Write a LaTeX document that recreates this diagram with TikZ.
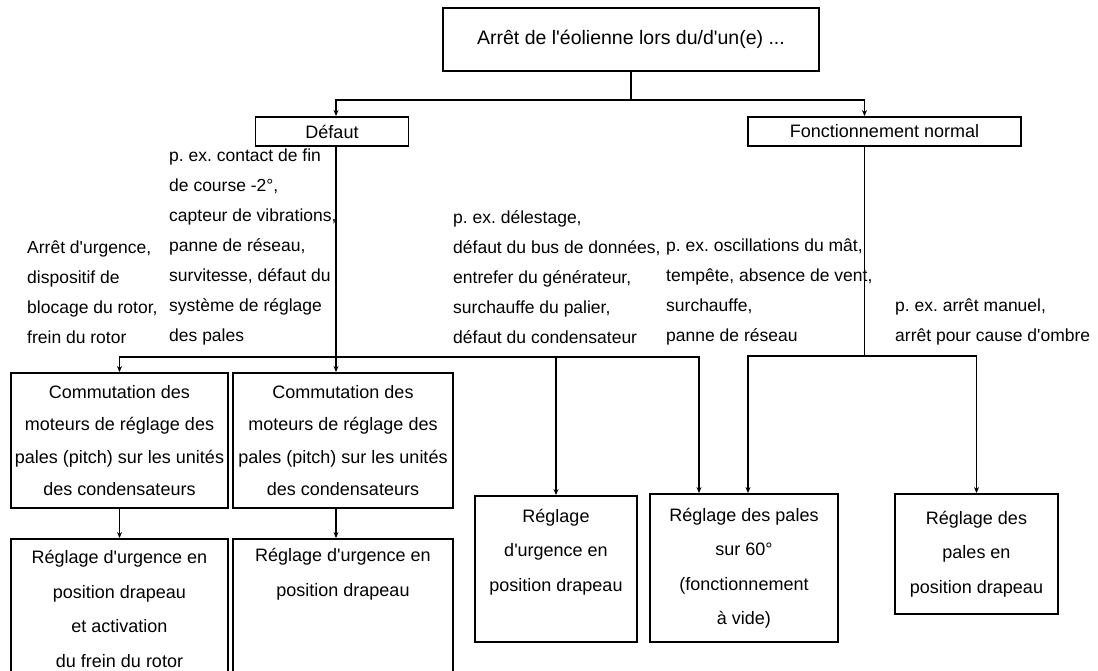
\documentclass[tikz,border=0pt]{standalone}
\usepackage{fontspec}
\setmainfont{Liberation Sans}[Ligatures=TeXOff]
\usetikzlibrary{arrows.meta}
\frenchspacing

\tikzset{
  box/.style={draw, line width=1.9pt, inner sep=0pt, align=center,
    font=\fontsize{18}{32.3}\selectfont},
  rbox/.style={box, font=\fontsize{18}{34.5}\selectfont},
  note/.style={anchor=west, inner sep=0pt, align=left,
    font=\fontsize{17.5}{30}\selectfont},
  link/.style={line width=1.9pt},
  flow/.style={link, -{Stealth[length=6pt,width=5pt]}},
}

\begin{document}
\begin{tikzpicture}[x=1pt,y=-1pt]
        \useasboundingbox (0,0) rectangle (1098,671);
        \clip (0,0) rectangle (1098,671);

        % Top - stop of the turbine
        \node[box, minimum width=376pt, minimum height=63pt, font=\fontsize{19.5}{22}\selectfont] (stop) at (631,39.5) {Arrêt de l'éolienne lors du/d'un(e) ...};
        \node[box, minimum width=153pt, minimum height=29pt] (fault) at (332,131.5) {Défaut};
        \node[box, minimum width=273pt, minimum height=29pt] (normal) at (884.5,131.5) {Fonctionnement normal};

        % Reasons
        \node[note] (reasonA) at (27,292) {Arrêt d'urgence,\\dispositif de\\blocage du rotor,\\frein du rotor};
        \node[note] (reasonB) at (169,247) {p. ex. contact de fin\\de course -2°,\\capteur de vibrations,\\panne de réseau,\\survitesse, défaut du\\système de réglage\\des pales};
        \node[note] (reasonC) at (453,277) {p. ex. délestage,\\défaut du bus de données,\\entrefer du générateur,\\surchauffe du palier,\\défaut du condensateur};
        \node[note] (reasonD) at (666,292) {p. ex. oscillations du mât,\\tempête, absence de vent,\\surchauffe,\\panne de réseau};
        \node[note] (reasonE) at (895,322) {p. ex. arrêt manuel,\\arrêt pour cause d'ombre};

        % Fault branch - pitch motors and feathering
        \node[box, minimum width=217pt, minimum height=135pt] (switchA) at (119.5,440.5) {Commutation des\\moteurs de réglage des\\pales (pitch) sur les unités\\des condensateurs};
        \node[box, minimum width=220pt, minimum height=135pt] (switchB) at (343,440.5) {Commutation des\\moteurs de réglage des\\pales (pitch) sur les unités\\des condensateurs};
        \node[rbox, minimum width=217pt, minimum height=139.5pt] (featherA) at (119.5,608.75) {Réglage d'urgence en\\position drapeau\\et activation\\du frein du rotor};
        \node[rbox, minimum width=220pt, minimum height=139.5pt] (featherB) at (343,608.75) {Réglage d'urgence en\\position drapeau\\\phantom{Rg}\\\phantom{Rg}};
        \node[rbox, minimum width=162pt, minimum height=146pt] (featherC) at (556,569) {Réglage\\d'urgence en\\position drapeau\\\phantom{Rg}};

        % Normal branch
        \node[rbox, minimum width=188pt, minimum height=148pt] (idle) at (744,568) {Réglage des pales\\sur 60°\\(fonctionnement\\à vide)};
        \node[rbox, minimum width=163pt, minimum height=120pt] (featherD) at (976.5,554) {Réglage des\\pales en\\position drapeau};

        % Connectors
        \coordinate (split) at (631,100);
        \draw[link] (stop.south) -- (split);
        \draw[flow] (split) -| ([xshift=4pt]fault.north);
        \draw[flow] (split) -| ([xshift=-20pt]normal.north);

        \coordinate (faultbus) at (336,357);
        \draw[link] (faultbus |- fault.south) -- (faultbus);
        \draw[flow] (faultbus) -| (switchA.north);
        \draw[flow] (faultbus) -- (faultbus |- switchB.north);
        \draw[flow] (faultbus) -| (featherC.north);
        \draw[flow] (faultbus) -| ([xshift=-45pt]idle.north);
        \draw[flow] (switchA) -- (featherA);
        \draw[flow] (switchB.south -| faultbus) -- (featherB.north -| faultbus);

        \coordinate (normalbus) at (864.5,356);
        \draw[link] (normalbus |- normal.south) -- (normalbus);
        \draw[flow] (normalbus) -| ([xshift=4pt]idle.north);
        \draw[flow] (normalbus) -| (featherD.north);
    \end{tikzpicture}
\end{document}
